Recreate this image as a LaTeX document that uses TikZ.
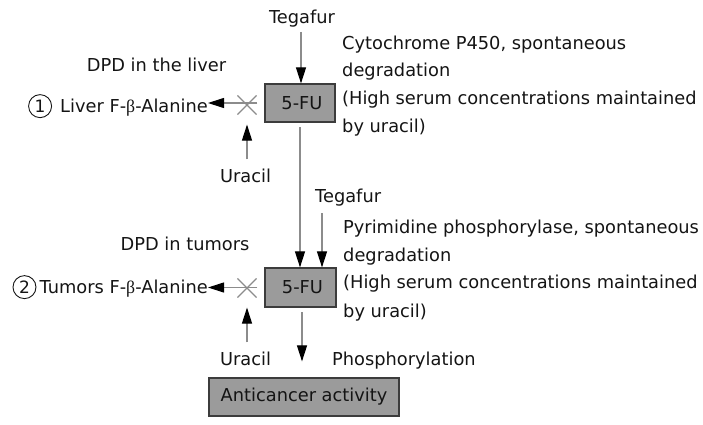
\documentclass[tikz,border=0pt]{standalone}
\usepackage{fontspec}
\setmainfont{DejaVu Sans}
\newfontfamily\betafont{Liberation Serif}
\usetikzlibrary{arrows.meta,shapes.misc}
\definecolor{linegray}{RGB}{140,140,140}
\definecolor{boxgray}{RGB}{155,155,155}
\definecolor{boxedge}{RGB}{60,60,60}
\definecolor{txt}{RGB}{20,20,20}
\tikzset{
  lbl/.style={inner sep=0pt, text=txt, font=\fontsize{17.8}{20}\selectfont},
  fubox/.style={draw=boxedge, line width=1.2pt, fill=boxgray, inner sep=0pt, text=txt,
     font=\fontsize{17.8}{20}\selectfont},
  conn/.style={draw=linegray, line width=1.1pt, -{Triangle[length=16pt,width=10pt,black]}},
  block/.style={draw=linegray, line width=1.1pt, cross out, minimum size=18pt, inner sep=0pt},
  numcirc/.style={circle, draw=txt, line width=0.9pt, minimum size=23pt, inner sep=0pt,
     text=txt, font=\fontsize{17}{17}\selectfont}
}
\begin{document}
\begin{tikzpicture}[x=1pt,y=-1pt]
\useasboundingbox (0,0) rectangle (703,425);
% boxes
\node[fubox, minimum width=70pt, minimum height=38pt] (fu1) at (300,103) {\hspace{4pt}5-FU};
\node[fubox, minimum width=71pt, minimum height=39pt] (fu2) at (300.5,287.5) {\hspace{4pt}5-FU};
\node[fubox, minimum width=190pt, minimum height=38pt] (anti) at (304,397) {Anticancer activity};
% upper texts
\node[lbl, anchor=base] (teg1) at (302,24) {Tegafur};
\node[lbl, anchor=base west] (c1) at (342,50) {Cytochrome P450, spontaneous};
\node[lbl, anchor=base west] (c2) at (342,77) {degradation};
\node[lbl, anchor=base west] (c3) at (342,105) {(High serum concentrations maintained};
\node[lbl, anchor=base west] (c4) at (342,132) {by uracil)};
\node[lbl, anchor=base] (dpd1) at (156.5,72) {DPD in the liver};
\node[lbl, anchor=base east] (liver) at (208,112) {Liver F-{\betafont β}-Alanine};
\node[numcirc, anchor=east] (n1) at ([xshift=-8pt,yshift=1pt]liver.west) {1};
\node[block] (x1) at (247,105) {};
\node[lbl, anchor=base] (ura1) at (245.5,182) {Uracil};
% lower texts
\node[lbl, anchor=base west] (teg2) at (315,202) {Tegafur};
\node[lbl, anchor=base west] (p1) at (343,233) {Pyrimidine phosphorylase, spontaneous};
\node[lbl, anchor=base west] (p2) at (343,261) {degradation};
\node[lbl, anchor=base west] (p3) at (343,288) {(High serum concentrations maintained};
\node[lbl, anchor=base west] (p4) at (343,317) {by uracil)};
\node[lbl, anchor=base] (dpd2) at (185,250) {DPD in tumors};
\node[lbl, anchor=base east] (tumor) at (208,293) {Tumors F-{\betafont β}-Alanine};
\node[numcirc, anchor=east] (n2) at ([xshift=-3pt,yshift=1pt]tumor.west) {2};
\node[block] (x2) at (247,288) {};
\node[lbl, anchor=base] (ura2) at (245.5,365) {Uracil};
\node[lbl, anchor=base west] (phos) at (332,365) {Phosphorylation};
% connectors
\coordinate (t1s) at (301,32);
\draw[conn] (t1s) -- (t1s |- fu1.north);
\coordinate (f1s) at (300,127);
\draw[conn] (f1s) -- (f1s |- fu2.north);
\coordinate (t2s) at (322,213);
\draw[conn] (t2s) -- (t2s |- fu2.north);
\draw[conn] ([xshift=-7pt]fu1.west) -- (fu1.west -| liver.east);
\draw[conn] ([xshift=-7pt]fu2.west) -- (fu2.west -| tumor.east);
\draw[conn] ([yshift=9pt]ura1.north -| x1.south) -- ([yshift=-10pt]x1.south);
\draw[conn] ([yshift=9pt]ura2.north -| x2.south) -- ([yshift=-10pt]x2.south);
\coordinate (f2s) at (302,312);
\draw[conn] (f2s) -- ([yshift=16pt]f2s |- anti.north);
\end{tikzpicture}
\end{document}
